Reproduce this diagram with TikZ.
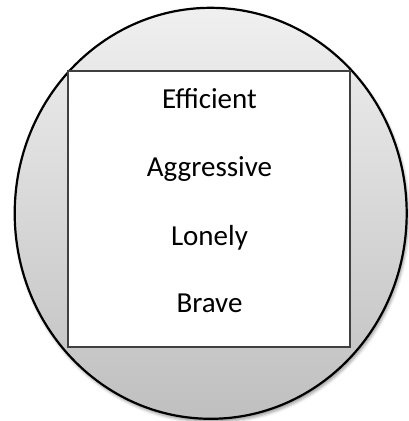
\documentclass[tikz,border=0pt]{standalone}
\usepackage{fontspec}
\setmainfont{Carlito}
\usetikzlibrary{shadows.blur,shapes.geometric}
\begin{document}
\begin{tikzpicture}[x=1pt,y=-1pt,
  outer/.style={draw=black,line width=2.2pt,top color=gray!12,bottom color=gray!50,
    blur shadow={shadow xshift=1.5pt,shadow yshift=-3pt,shadow blur radius=3pt,shadow opacity=40}},
  inner/.style={draw=black!75,line width=1.4pt,fill=white},
  word/.style={anchor=base,font=\fontsize{29}{34}\selectfont,inner sep=0pt}]
\useasboundingbox (0,0) rectangle (409,421);
\node[outer,ellipse,minimum width=392pt,minimum height=411pt,inner sep=0pt] (ring) at (210.7,213.3) {};
\draw[inner] (68,71) rectangle (350,347);
\node[word] (w1) at (209.5,108) {Efficient};
\node[word] (w2) at (209.5,176) {Aggressive};
\node[word] (w3) at (209.5,245) {Lonely};
\node[word] (w4) at (209.5,312) {Brave};
\end{tikzpicture}
\end{document}
